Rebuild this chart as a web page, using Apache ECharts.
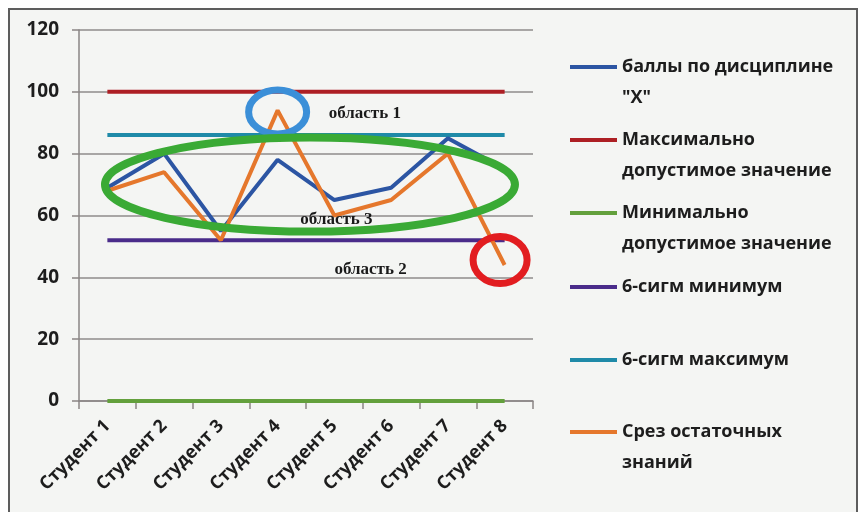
<!DOCTYPE html>
<html>
<head>
<meta charset="utf-8">
<script src="https://cdn.jsdelivr.net/npm/echarts@6/dist/echarts.min.js"></script>
<style>
  html, body { margin: 0; padding: 0; background: #fff; }
  #main { width: 864px; height: 512px; }
</style>
</head>
<body>
<div id="main"></div>
<script>
// data
var students = ['Студент 1', 'Студент 2', 'Студент 3', 'Студент 4', 'Студент 5', 'Студент 6', 'Студент 7', 'Студент 8'];
var scores = [69, 80, 55, 78, 65, 69, 85, 75];
var maxAllowed = [100, 100, 100, 100, 100, 100, 100, 100];
var minAllowed = [0, 0, 0, 0, 0, 0, 0, 0];
var sigmaMin = [52, 52, 52, 52, 52, 52, 52, 52];
var sigmaMax = [86, 86, 86, 86, 86, 86, 86, 86];
var residual = [68, 74, 52, 94, 60, 65, 80, 44];
var yTicks = [0, 20, 40, 60, 80, 100, 120];

var names = ['баллы по дисциплине\n"X"', 'Максимально\nдопустимое значение', 'Минимально\nдопустимое значение',
  '6-сигм минимум', '6-сигм максимум', 'Срез остаточных\nзнаний'];
var colors = ['#2c55a3', '#ad1f24', '#63a03c', '#4a2c8a', '#1f8aa8', '#e5772c'];
var values = [scores, maxAllowed, minAllowed, sigmaMin, sigmaMax, residual];
// centre of each legend marker
var legendY = [67, 140, 213, 287, 360, 432];

var font = "'Open Sans', 'DejaVu Sans', sans-serif";

var legends = names.map(function (n, i) {
  var twoLines = n.indexOf('\n') >= 0;
  return {
    data: [n],
    orient: 'vertical',
    left: 570,
    top: twoLines ? legendY[i] - 46.5 : legendY[i] - 15.5,
    padding: 0,
    icon: 'rect',
    itemWidth: 47,
    itemHeight: 4,
    selectedMode: false,
    // empty first line keeps the marker level with the first text line
    formatter: function (name) { return twoLines ? '\n' + name : name; },
    textStyle: { fontFamily: font, fontSize: 18, fontWeight: 'bold', color: '#1d1d1d', lineHeight: 31 }
  };
});

var series = names.map(function (n, i) {
  return {
    name: n,
    type: 'line',
    data: values[i],
    symbol: 'none',
    lineStyle: { color: colors[i], width: 4 },
    itemStyle: { color: colors[i] },
    z: 3
  };
});
series[0].z = 4;
series[5].z = 5;

var chart = echarts.init(document.getElementById('main'));
chart.setOption({
  backgroundColor: '#ffffff',
  animation: false,
  grid: { left: 79, right: 331, top: 30, bottom: 111 },
  legend: legends,
  xAxis: {
    type: 'category',
    data: students,
    boundaryGap: true,
    axisLine: { lineStyle: { color: '#8a8585', width: 1.5 } },
    axisTick: { show: true, interval: 0, length: 8, lineStyle: { color: '#8a8585', width: 1.5 } },
    axisLabel: { interval: 0, rotate: 45, margin: 22, fontFamily: font, fontSize: 18, fontWeight: 'bold', color: '#1d1d1d' }
  },
  yAxis: {
    type: 'value',
    min: yTicks[0],
    max: yTicks[yTicks.length - 1],
    interval: 20,
    axisLine: { show: true, lineStyle: { color: '#8a8585', width: 1.5 } },
    axisTick: { show: true, length: 7, lineStyle: { color: '#8a8585', width: 1.5 } },
    splitLine: { lineStyle: { color: '#8f8b8b', width: 1.5 } },
    axisLabel: { margin: 20, fontFamily: font, fontSize: 19, fontWeight: 'bold', color: '#1d1d1d' }
  },
  series: series
});

// hand-drawn annotations, anchored to data positions
// (category axis rounds fractional indexes, so interpolate between first and last)
function px(idx, v) {
  var a = chart.convertToPixel({ gridIndex: 0 }, [0, v]);
  var b = chart.convertToPixel({ gridIndex: 0 }, [students.length - 1, v]);
  return [a[0] + (b[0] - a[0]) * idx / (students.length - 1), a[1]];
}
var p1 = px(3, 93.5);     // peak of student 4
var p3 = px(3.57, 70);    // middle band
var p2 = px(6.92, 45.6);  // drop of student 8
var t1 = px(3.9, 93);
var t3 = px(3.4, 58.6);
var t2 = px(4.0, 42.4);

var labelFont = 'bold 17px "Liberation Serif", serif';
chart.setOption({
  graphic: [
    { type: 'rect', z: -10, silent: true,
      shape: { x: 9, y: 9, width: 848, height: 520 },
      style: { fill: '#f4f5f3', stroke: '#5d5d5d', lineWidth: 2 } },
    { type: 'ellipse', z: 100, silent: true,
      shape: { cx: p1[0], cy: p1[1], rx: 29, ry: 22 },
      style: { fill: 'none', stroke: '#3b8fd8', lineWidth: 7 } },
    { type: 'ellipse', z: 100, silent: true,
      shape: { cx: p3[0], cy: p3[1], rx: 205, ry: 47 },
      style: { fill: 'none', stroke: '#3aaa35', lineWidth: 8 } },
    { type: 'ellipse', z: 100, silent: true,
      shape: { cx: p2[0], cy: p2[1], rx: 27, ry: 23.5 },
      style: { fill: 'none', stroke: '#e21d20', lineWidth: 7 } },
    { type: 'text', z: 101, silent: true, x: t1[0], y: t1[1],
      style: { text: 'область 1', font: labelFont, fill: '#1a1a1a', verticalAlign: 'middle' } },
    { type: 'text', z: 101, silent: true, x: t3[0], y: t3[1],
      style: { text: 'область 3', font: labelFont, fill: '#1a1a1a', verticalAlign: 'middle' } },
    { type: 'text', z: 101, silent: true, x: t2[0], y: t2[1],
      style: { text: 'область 2', font: labelFont, fill: '#1a1a1a', verticalAlign: 'middle' } }
  ]
});
</script>
</body>
</html>
